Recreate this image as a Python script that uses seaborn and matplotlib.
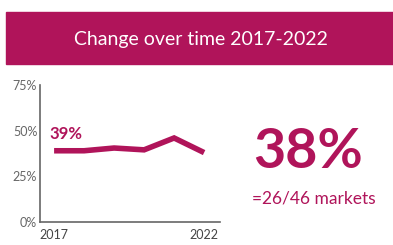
import matplotlib
matplotlib.use("Agg")
import matplotlib.pyplot as plt
import seaborn as sns
import pandas as pd
from matplotlib.patches import Rectangle

years = [2017, 2018, 2019, 2020, 2021, 2022]
share = [39, 39, 40.5, 39.5, 46, 38]
yticks = [0, 25, 50, 75]
title = "Change over time 2017-2022"
big_value = "38%"
sub_value = "=26/46 markets"

magenta = "#B0145A"
grey = "#666666"

sns.set_style("white")
plt.rcParams['font.family'] = ['Lato', 'DejaVu Sans']

fig = plt.figure(figsize=(3.93, 2.45), dpi=100)
W, H = 393, 245

# banner
fig.patches.append(Rectangle((6 / W, 1 - 64 / H), 1 - 6 / W, 52 / H,
                             transform=fig.transFigure, color=magenta, zorder=0))
fig.text(201 / W, 1 - 39 / H, title, color="white", fontsize=14,
         ha="center", va="center")

ax = fig.add_axes([40 / W, 1 - 222 / H, 180 / W, 137 / H])
df = pd.DataFrame({"year": years, "share": share})
sns.lineplot(data=df, x="year", y="share", ax=ax, color=magenta,
             linewidth=4, solid_capstyle="butt", solid_joinstyle="miter")
ax.set_xlim(2016.53, 2022.53)
ax.set_ylim(0, 75)
ax.set_xlabel("")
ax.set_ylabel("")
ax.set_xticks(years)
ax.set_xticklabels([str(years[0])] + [""] * 4 + [str(years[-1])])
ax.set_yticks(yticks)
ax.set_yticklabels([f"{t}%" for t in yticks])
ax.tick_params(axis="x", length=3, width=1, color=grey, colors="#444444",
               labelsize=9, pad=2, direction="out")
ax.tick_params(axis="y", length=0, colors=grey, labelsize=9, pad=2)
for s in ["top", "right"]:
    ax.spines[s].set_visible(False)
for s in ["left", "bottom"]:
    ax.spines[s].set_color(grey)
    ax.spines[s].set_linewidth(1.2)

ax.text(years[0] - 0.15, share[0] + 5, f"{share[0]:.0f}%", color=magenta,
        fontsize=12, fontweight="bold", ha="left", va="bottom")

fig.text(308 / W, 1 - 152 / H, big_value, color=magenta, fontsize=40,
         fontweight="bold", ha="center", va="center")
fig.text(314 / W, 1 - 199 / H, sub_value, color=magenta, fontsize=12.5,
         ha="center", va="center")

fig.savefig("out.png", dpi=100)
